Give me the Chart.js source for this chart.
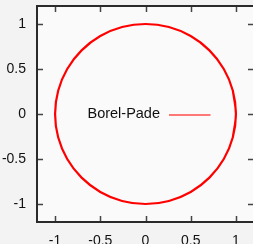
<!DOCTYPE html>
<html>
<head>
<meta charset="utf-8">
<script src="https://cdn.jsdelivr.net/npm/chart.js@4/dist/chart.umd.min.js"></script>
<style>
  html, body { margin: 0; padding: 0; overflow: hidden; background: #f3f3f3; }
  #wrap { position: relative; width: 260px; height: 244px; }
</style>
</head>
<body>
<div id="wrap"><canvas id="chart" width="260" height="244"></canvas></div>
<script>
// DATA
// ====
const seriesLabel = 'Borel-Pade';
// points (unit circle), counter-clockwise, wrapping a bit past the start
const circleX = [0.966, 1, 0.966, 0.866, 0.707, 0.5, 0.259, 0, -0.259, -0.5, -0.707, -0.866, -0.966,
                 -1, -0.966, -0.866, -0.707, -0.5, -0.259, 0, 0.259, 0.5, 0.707, 0.866, 0.966, 1, 0.966];
const circleY = [-0.259, 0, 0.259, 0.5, 0.707, 0.866, 0.966, 1, 0.966, 0.866, 0.707, 0.5, 0.259,
                 0, -0.259, -0.5, -0.707, -0.866, -0.966, -1, -0.966, -0.866, -0.707, -0.5, -0.259, 0, 0.259];
const xTicks = [-1, -0.5, 0, 0.5, 1];
const yTicks = [-1, -0.5, 0, 0.5, 1];
const axisMin = -1.2;
const axisMax = 1.2;

const FONT = { family: '"Liberation Sans", Arial, sans-serif', size: 14 };

// PLUGINS
// =======
// background + frame with inward (gnuplot style) ticks on all four sides
const framePlugin = {
    id: 'frame',
    beforeDraw(chart) {
        const { ctx, chartArea: a } = chart;
        ctx.save();
        ctx.fillStyle = '#f3f3f3';
        ctx.fillRect(0, 0, chart.width, chart.height);
        ctx.fillStyle = '#fafafa';
        ctx.fillRect(a.left, a.top, a.right - a.left, a.bottom - a.top);
        ctx.restore();
    },
    afterDraw(chart) {
        const { ctx, chartArea: a, scales } = chart;
        const tl = 6;
        ctx.save();
        ctx.strokeStyle = '#444';
        ctx.lineWidth = 1.5;
        ctx.beginPath();
        scales.x.ticks.forEach((t) => {
            const px = Math.round(scales.x.getPixelForValue(t.value)) + 0.5;
            ctx.moveTo(px, a.bottom); ctx.lineTo(px, a.bottom - tl);
            ctx.moveTo(px, a.top); ctx.lineTo(px, a.top + tl);
        });
        scales.y.ticks.forEach((t) => {
            const py = Math.round(scales.y.getPixelForValue(t.value)) + 0.5;
            ctx.moveTo(a.left, py); ctx.lineTo(a.left + tl, py);
            ctx.moveTo(a.right, py); ctx.lineTo(a.right - tl, py);
        });
        ctx.stroke();
        ctx.strokeStyle = '#2a2a2a';
        ctx.lineWidth = 2;
        ctx.strokeRect(a.left, a.top, a.right - a.left, a.bottom - a.top);
        ctx.restore();
    },
};

// key placed in the middle of the plot: text then line sample
const keyPlugin = {
    id: 'centerKey',
    afterDatasetsDraw(chart) {
        const { ctx, chartArea: a } = chart;
        const cx = (a.left + a.right) / 2;
        const cy = (a.top + a.bottom) / 2;
        ctx.save();
        ctx.font = '14.5px ' + FONT.family;
        ctx.fillStyle = '#111';
        ctx.textAlign = 'right';
        ctx.textBaseline = 'middle';
        ctx.fillText(seriesLabel, cx + 14.5, cy);
        ctx.strokeStyle = '#ff7878';
        ctx.lineWidth = 2;
        ctx.beginPath();
        ctx.moveTo(cx + 23.5, cy + 1);
        ctx.lineTo(cx + 65, cy + 1);
        ctx.stroke();
        ctx.restore();
    },
};

function noPadding(s) {
    s.paddingTop = 0;
    s.paddingBottom = 0;
    s.paddingLeft = 0;
    s.paddingRight = 0;
}

// CHART
// =====
const points = circleX.map((x, i) => ({ x, y: circleY[i] }));

new Chart(document.getElementById('chart').getContext('2d'), {
    type: 'scatter',
    data: {
        datasets: [{
            label: seriesLabel,
            data: points,
            showLine: true,
            borderColor: '#ff0000',
            borderWidth: 2.2,
            pointRadius: 0,
            tension: 0.34,
            fill: false,
        }],
    },
    options: {
        responsive: false,
        animation: false,
        devicePixelRatio: 1,
        layout: { padding: { left: 0, right: 6, top: 6, bottom: 0 } },
        plugins: {
            legend: { display: false },
            tooltip: { enabled: false },
        },
        scales: {
            x: {
                type: 'linear',
                min: axisMin,
                max: axisMax,
                grid: { display: false, drawTicks: false },
                border: { display: false },
                afterBuildTicks: (s) => { s.ticks = xTicks.map((v) => ({ value: v })); },
                afterFit: (s) => { s.height = 22; noPadding(s); },
                ticks: {
                    color: '#111',
                    font: FONT,
                    padding: 11,
                    maxRotation: 0,
                    callback: (v) => String(v),
                },
            },
            y: {
                type: 'linear',
                min: axisMin,
                max: axisMax,
                grid: { display: false, drawTicks: false },
                border: { display: false },
                afterBuildTicks: (s) => { s.ticks = yTicks.map((v) => ({ value: v })); },
                afterFit: (s) => { s.width = 37; noPadding(s); },
                ticks: {
                    color: '#111',
                    font: FONT,
                    padding: 11,
                    callback: (v) => String(v),
                },
            },
        },
    },
    plugins: [framePlugin, keyPlugin],
});
</script>
</body>
</html>
